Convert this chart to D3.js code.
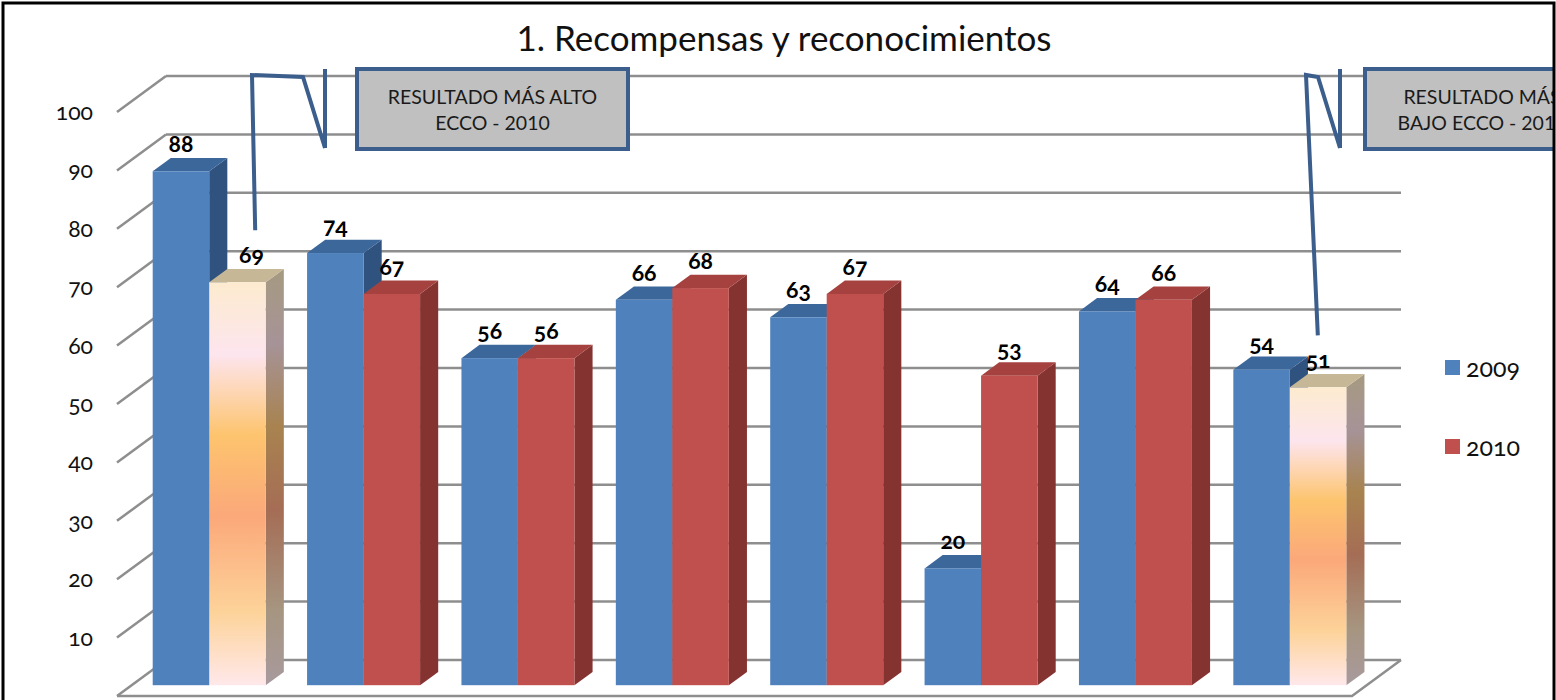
<!DOCTYPE html>
<html>
<head>
<meta charset="utf-8">
<script src="https://cdn.jsdelivr.net/npm/d3@7"></script>
<style>
  body { margin: 0; background: #fff; }
  text { font-family: Lato, "Open Sans", sans-serif; }
</style>
</head>
<body>
<div id="chart"></div>
<script>

// chart data
var categories = ["1", "2", "3", "4", "5", "6", "7", "8"];
var seriesNames = ["2009", "2010"];
var values2009 = [88, 74, 56, 66, 63, 20, 64, 54];
var values2010 = [69, 67, 56, 68, 67, 53, 66, 51];
var yTicks = [10, 20, 30, 40, 50, 60, 70, 80, 90, 100];
var chartTitle = "1. Recompensas y reconocimientos";
var highText = ["RESULTADO MÁS ALTO", "ECCO - 2010"];
var lowText = ["RESULTADO MÁS", "BAJO ECCO - 2010"];

var width = 1556, height = 700;

// front plane of the 3D box and its depth offset
var plot = { left: 117, right: 1352, bottom: 696, top: 112 };
var depth = { dx: 49, dy: -36 };
var barZ = [0.3, 0.67];   // bars sit between these depth fractions

var colors = {
    "2009": { front: "#4F81BD", top: "#3C679B", side: "#30527F" },
    "2010": { front: "#C0504D", top: "#A5423F", side: "#843331" }
};

var svg = d3.select("#chart").append("svg")
    .attr("width", width)
    .attr("height", height);

var defs = svg.append("defs");

defs.append("clipPath").attr("id", "frame")
    .append("rect").attr("x", 4).attr("y", 4).attr("width", 1549).attr("height", 720);

// gradient for highlighted bars (front and side)
var gFront = defs.append("linearGradient").attr("id", "hlFront")
    .attr("x1", 0).attr("y1", 0).attr("x2", 0).attr("y2", 1);
[[0, "#FDEBCF"], [0.18, "#FDE5EE"], [0.38, "#FDC46E"], [0.58, "#FBA87A"], [0.82, "#FDD39A"], [1, "#FFE8EA"]]
    .forEach(function (s) { gFront.append("stop").attr("offset", s[0]).attr("stop-color", s[1]); });

var gSide = defs.append("linearGradient").attr("id", "hlSide")
    .attr("x1", 0).attr("y1", 0).attr("x2", 0).attr("y2", 1);
[[0, "#A69A80"], [0.18, "#A69398"], [0.38, "#A8834F"], [0.58, "#A56D55"], [0.82, "#A69580"], [1, "#A89A9E"]]
    .forEach(function (s) { gSide.append("stop").attr("offset", s[0]).attr("stop-color", s[1]); });

var root = svg.append("g").attr("clip-path", "url(#frame)");

// scales
var y = d3.scaleLinear().domain([0, 100]).range([plot.bottom, plot.top]);
var x0 = d3.scaleBand().domain(categories).range([0, plot.right - plot.left]);
var x1 = d3.scaleBand().domain(seriesNames).range([21, 134]);

function sx(x, z) { return plot.left + x + z * depth.dx; }
function sy(v, z) { return y(v) + z * depth.dy; }

// title
root.append("text")
    .attr("x", 784).attr("y", 51)
    .attr("text-anchor", "middle")
    .attr("font-size", 35)
    .attr("fill", "#111")
    .text(chartTitle);

// walls and grid
var grid = root.append("g")
    .attr("stroke", "#8E8E8E")
    .attr("stroke-width", 2.5)
    .attr("fill", "none");

grid.selectAll(".hline").data([0].concat(yTicks)).enter().append("line")
    .attr("x1", sx(0, 1)).attr("x2", sx(x0.range()[1], 1))
    .attr("y1", function (d) { return sy(d, 1); })
    .attr("y2", function (d) { return sy(d, 1); });

grid.selectAll(".dline").data([0].concat(yTicks)).enter().append("line")
    .attr("x1", sx(0, 0)).attr("x2", sx(0, 1))
    .attr("y1", function (d) { return sy(d, 0); })
    .attr("y2", function (d) { return sy(d, 1); });

// floor edges
grid.append("polyline")
    .attr("points", [[sx(0, 0), sy(0, 0)], [sx(x0.range()[1], 0), sy(0, 0)], [sx(x0.range()[1], 1), sy(0, 1)]].join(" "));

// y tick labels
root.selectAll(".ylab").data(yTicks).enter().append("text")
    .attr("x", 93)
    .attr("y", function (d) { return sy(d, 0) + 8; })
    .attr("text-anchor", "end")
    .attr("font-size", 23)
    .style("font-variant-numeric", "oldstyle-nums")
    .attr("fill", "#111")
    .text(function (d) { return d; });

// build bar records
var bars = [];
categories.forEach(function (c, i) {
    bars.push({ cat: c, series: "2009", value: values2009[i] });
    bars.push({ cat: c, series: "2010", value: values2010[i] });
});
var maxHigh = d3.max(values2010), minLow = d3.min(values2010);
bars.forEach(function (b) {
    b.highlight = b.series === "2010" && (b.value === maxHigh || b.value === minLow);
});

var barG = root.append("g");

bars.forEach(function (b) {
    var xl = x0(b.cat) + x1(b.series), xr = xl + x1.bandwidth();
    var za = barZ[0], zb = barZ[1];
    var c = colors[b.series];
    b.fx = sx(xl, za); b.fx2 = sx(xr, za); b.fy = sy(b.value, za);

    // side face
    barG.append("polygon")
        .attr("points", [[sx(xr, za), sy(0, za)], [sx(xr, zb), sy(0, zb)], [sx(xr, zb), sy(b.value, zb)], [sx(xr, za), sy(b.value, za)]].join(" "))
        .attr("fill", b.highlight ? "url(#hlSide)" : c.side);
    // top face
    barG.append("polygon")
        .attr("points", [[sx(xl, za), sy(b.value, za)], [sx(xr, za), sy(b.value, za)], [sx(xr, zb), sy(b.value, zb)], [sx(xl, zb), sy(b.value, zb)]].join(" "))
        .attr("fill", b.highlight ? "#C6B797" : c.top);
    // front face
    barG.append("rect")
        .attr("x", b.fx).attr("y", b.fy)
        .attr("width", b.fx2 - b.fx)
        .attr("height", sy(0, za) - b.fy)
        .attr("fill", b.highlight ? "url(#hlFront)" : c.front);
});

// data labels (the top one is pushed right of the blue bar, as in the original)
root.selectAll(".dlab").data(bars).enter().append("text")
    .attr("x", function (d) {
        var cx = (d.fx + d.fx2) / 2;
        return d.highlight && d.value === maxHigh ? cx + 14 : cx;
    })
    .attr("y", function (d) { return d.fy - 19; })
    .attr("text-anchor", "middle")
    .attr("font-size", 23)
    .attr("font-weight", "bold")
    .style("font-variant-numeric", "oldstyle-nums")
    .attr("fill", "#000")
    .text(function (d) { return d.value; });

// legend
var legend = root.selectAll(".legend").data(seriesNames).enter().append("g")
    .attr("transform", function (d, i) { return "translate(1445," + (360 + i * 79) + ")"; });
legend.append("rect").attr("width", 15).attr("height", 15)
    .attr("fill", function (d) { return colors[d].front; });
legend.append("text").attr("x", 21).attr("y", 17)
    .attr("font-size", 25)
    .style("font-variant-numeric", "oldstyle-nums")
    .attr("fill", "#111")
    .text(function (d) { return d; });

// callouts (line callout with accent bar)
function callout(bar, box, lines, barX, elbowL, elbowR, endDx) {
    var g = root.append("g");
    var end = [bar.fx + endDx, bar.fy - 52];
    g.append("polyline")
        .attr("points", [[barX, box.y + box.h - 1], [elbowR, box.y + 8], [elbowL, box.y + 6], end].join(" "))
        .attr("fill", "none").attr("stroke", "#3B5E8C").attr("stroke-width", 4)
        .attr("stroke-linejoin", "miter");
    g.append("line")
        .attr("x1", barX).attr("x2", barX)
        .attr("y1", box.y).attr("y2", box.y + box.h - 1)
        .attr("stroke", "#3B5E8C").attr("stroke-width", 4);
    g.append("rect")
        .attr("x", box.x).attr("y", box.y).attr("width", box.w).attr("height", box.h)
        .attr("fill", "#C0C0C0").attr("stroke", "#3B5E8C").attr("stroke-width", 4);
    g.selectAll("text").data(lines).enter().append("text")
        .attr("x", box.x + box.w / 2)
        .attr("y", function (d, i) { return box.y + 35 + i * 26; })
        .attr("text-anchor", "middle")
        .attr("font-size", 19.5)
        .attr("fill", "#1a1a1a")
        .text(function (d) { return d; });
}

var highBar = bars.filter(function (b) { return b.highlight && b.value === maxHigh; })[0];
var lowBar = bars.filter(function (b) { return b.highlight && b.value === minLow; })[0];
callout(highBar, { x: 357, y: 69, w: 271, h: 80 }, highText, 325, 252, 303, 46);
callout(lowBar, { x: 1365, y: 69, w: 234, h: 80 }, lowText, 1340, 1306, 1318, 28);

// outer frame
svg.append("rect")
    .attr("x", 3).attr("y", 3).attr("width", 1551).attr("height", 740)
    .attr("fill", "none").attr("stroke", "#000").attr("stroke-width", 3);

</script>
</body>
</html>
